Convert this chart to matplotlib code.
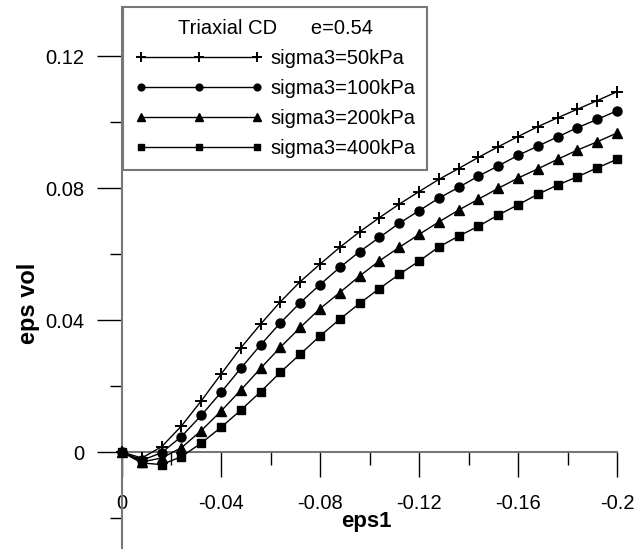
import matplotlib
matplotlib.use("Agg")
import matplotlib.pyplot as plt
from matplotlib.ticker import MultipleLocator

plt.rcParams['font.family'] = ['Liberation Sans', 'DejaVu Sans']

# ---- data ----
eps1 = [0.0, -0.008, -0.016, -0.024, -0.032, -0.040, -0.048, -0.056, -0.064,
        -0.072, -0.080, -0.088, -0.096, -0.104, -0.112, -0.120, -0.128,
        -0.136, -0.144, -0.152, -0.160, -0.168, -0.176, -0.184, -0.192, -0.200]

vol_50 = [0.0, -0.0018, 0.0016, 0.0079, 0.0155, 0.0236, 0.0316, 0.0388, 0.0456,
          0.0517, 0.0570, 0.0621, 0.0668, 0.0711, 0.0752, 0.0790, 0.0827,
          0.0860, 0.0894, 0.0926, 0.0957, 0.0987, 0.1014, 0.1040, 0.1066, 0.1093]
vol_100 = [0.0, -0.0025, -0.0002, 0.0047, 0.0111, 0.0181, 0.0254, 0.0325, 0.0392,
           0.0453, 0.0508, 0.0560, 0.0608, 0.0651, 0.0694, 0.0732, 0.0770,
           0.0803, 0.0837, 0.0868, 0.0900, 0.0928, 0.0956, 0.0984, 0.1009, 0.1035]
vol_200 = [0.0, -0.0030, -0.0018, 0.0013, 0.0065, 0.0124, 0.0188, 0.0254, 0.0318,
           0.0378, 0.0435, 0.0484, 0.0534, 0.0580, 0.0621, 0.0660, 0.0698,
           0.0734, 0.0767, 0.0800, 0.0831, 0.0859, 0.0888, 0.0916, 0.0941, 0.0968]
vol_400 = [0.0, -0.0033, -0.0038, -0.0014, 0.0027, 0.0075, 0.0127, 0.0183, 0.0242,
           0.0297, 0.0352, 0.0403, 0.0451, 0.0496, 0.0539, 0.0579, 0.0622,
           0.0655, 0.0685, 0.0719, 0.0750, 0.0782, 0.0810, 0.0835, 0.0862, 0.0888]

series_labels = ['sigma3=50kPa', 'sigma3=100kPa', 'sigma3=200kPa', 'sigma3=400kPa']
x_ticks = [0.0, -0.04, -0.08, -0.12, -0.16, -0.2]
x_tick_labels = ['0', '-0.04', '-0.08', '-0.12', '-0.16', '-0.2']
y_ticks = [0.0, 0.04, 0.08, 0.12]
y_tick_labels = ['0', '0.04', '0.08', '0.12']
legend_title = 'Triaxial CD      e=0.54'

# ---- figure ----
W, H = 634, 551
fig = plt.figure(figsize=(W / 100, H / 100), dpi=100)
ax = fig.add_axes([122 / W, 3 / H, 495 / W, 541 / H])

styles = [dict(marker='+', ms=9, mew=1.4),
          dict(marker='o', ms=6.5),
          dict(marker='^', ms=7),
          dict(marker='s', ms=6.2)]
for ys, lab, st in zip([vol_50, vol_100, vol_200, vol_400], series_labels, styles):
    ax.plot(eps1, ys, color='black', lw=1.0, mfc='black', mec='black',
            label=lab, clip_on=False, zorder=3, **st)

ax.set_xlim(0, -0.2)
ax.set_ylim(-0.0291, 0.135)

for s in ['top', 'right']:
    ax.spines[s].set_visible(False)
ax.spines['left'].set_position(('data', 0))
ax.spines['bottom'].set_position(('data', 0))
for s in ['left', 'bottom']:
    ax.spines[s].set_color('#777777')
    ax.spines[s].set_linewidth(1.5)

ax.set_xticks(x_ticks)
ax.set_xticklabels(x_tick_labels)
ax.set_yticks(y_ticks)
ax.set_yticklabels(y_tick_labels)
ax.xaxis.set_minor_locator(MultipleLocator(0.02))
ax.yaxis.set_minor_locator(MultipleLocator(0.02))

ax.tick_params(axis='both', which='major', direction='out', length=18, width=1.0,
               color='black', labelsize=14.5)
ax.tick_params(axis='both', which='minor', direction='out', length=9, width=1.0,
               color='black')
ax.tick_params(axis='x', which='major', pad=12)
ax.tick_params(axis='y', which='major', pad=9)

ax.set_xlabel('eps1', fontsize=16, fontweight='bold')
ax.xaxis.set_label_coords((366 - 122) / 495, (548 - 522) / 541)
ax.xaxis.label.set_va('center')
ax.set_ylabel('eps vol', fontsize=17, fontweight='bold')
ax.yaxis.set_label_coords((28 - 122) / 495, (548 - 303) / 541)
ax.yaxis.label.set_va('center')
ax.yaxis.label.set_ha('center')

leg = ax.legend(loc='upper left', bbox_to_anchor=(123 / W, 1 - 7 / H),
                bbox_transform=fig.transFigure, borderaxespad=0,
                numpoints=3, handlelength=6.35, handletextpad=0.35,
                markerscale=0.75, fontsize=14.5, title=legend_title,
                title_fontsize=14.5, fancybox=False, framealpha=1,
                borderpad=0.6, labelspacing=0.55)
leg.get_frame().set_edgecolor('#777777')
leg.get_frame().set_linewidth(1.5)
leg.set_zorder(5)

fig.savefig('out.png', dpi=100)
